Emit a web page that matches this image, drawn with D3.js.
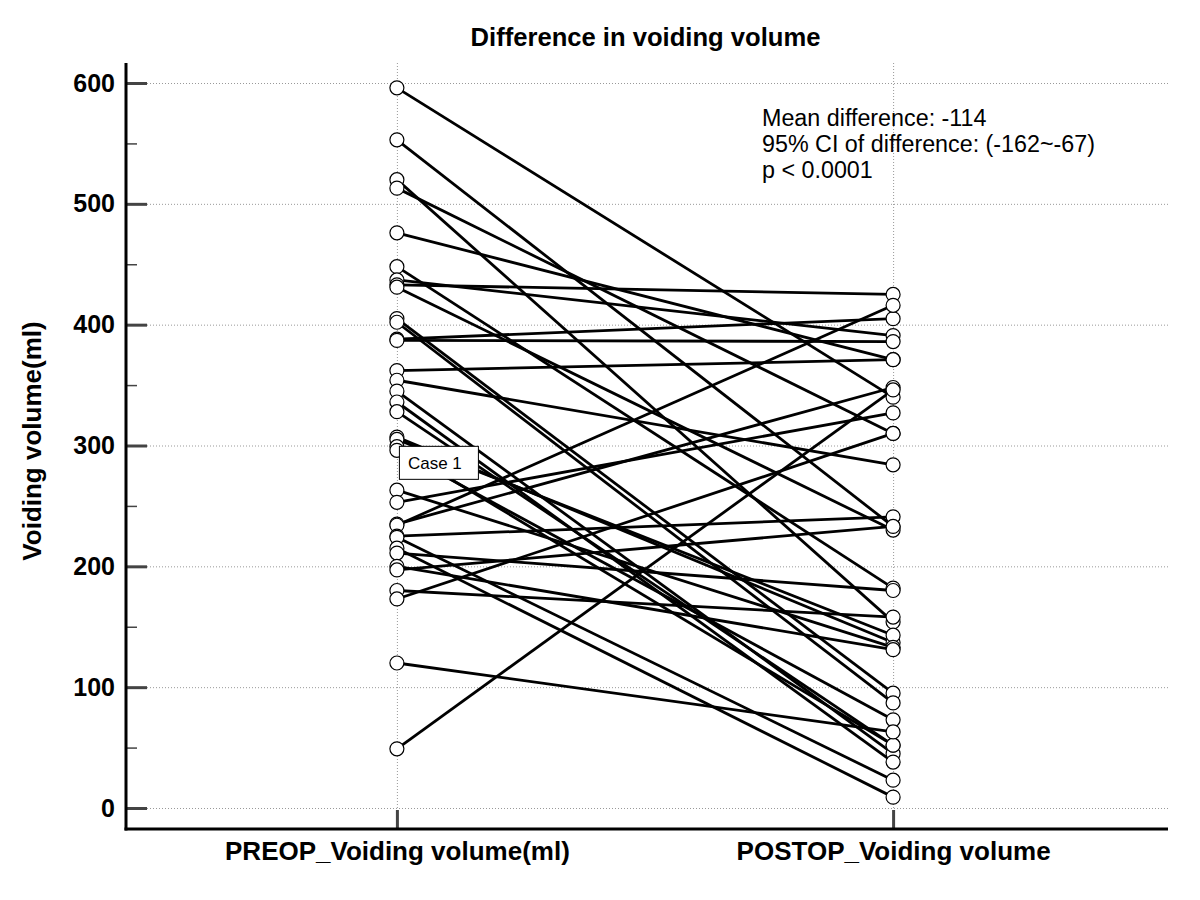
<!DOCTYPE html>
<html>
<head>
<meta charset="utf-8">
<script src="https://cdn.jsdelivr.net/npm/d3@7"></script>
<style>
  body { margin: 0; background: #fff; }
  svg { font-family: "Liberation Sans", Arial, sans-serif; }
</style>
</head>
<body>
<svg width="1200" height="900"></svg>
<script>
// paired measurements, one entry per case
const categories = ["PREOP_Voiding volume(ml)", "POSTOP_Voiding volume"]
const preop  = [596, 553, 520, 513, 476, 448, 437, 433, 431, 405, 402, 388, 387, 362, 354, 345, 336, 328,
                307, 305, 299, 296, 263, 253, 235, 234, 225, 224, 215, 211, 200, 197, 180, 173, 120, 49]
const postop = [340, 233, 154, 310, 371, 182, 391, 425, 230, 95, 87, 405, 386, 371, 284, 45, 38, 52,
                137, 143, 52, 73, 133, 327, 348, 416, 241, 23, 9, 180, 131, 233, 158, 310, 63, 346]
const yTicks = [0, 100, 200, 300, 400, 500, 600]
const yMinorTicks = [50, 150, 250, 350, 450, 550]
const statLines = ["Mean difference: -114", "95% CI of difference: (-162~-67)", "p < 0.0001"]
const caseLabel = { index: 21, text: "Case 1" }

const svg = d3.select("svg")

const plotLeft = 126, plotRight = 1168, plotTop = 63, plotBottom = 829

const x = d3.scalePoint()
  .domain(categories)
  .range([plotLeft - 2, plotRight - 2])
  .padding(0.55)

const y = d3.scaleLinear()
  .domain([0, 600])
  .range([808, 83])

const pairs = preop.map((v, i) => ({ pre: v, post: postop[i] }))

// grid
const grid = svg.append("g")
  .attr("stroke", "#999")
  .attr("stroke-width", 1)
  .attr("stroke-dasharray", "1,2")

grid.selectAll("line.h")
  .data(yTicks)
  .enter()
  .append("line")
  .attr("class", "h")
  .attr("x1", plotLeft + 21).attr("x2", plotRight)
  .attr("y1", d => y(d) + 0.5).attr("y2", d => y(d) + 0.5)

grid.selectAll("line.v")
  .data(categories)
  .enter()
  .append("line")
  .attr("class", "v")
  .attr("x1", d => x(d) + 0.5).attr("x2", d => x(d) + 0.5)
  .attr("y1", plotTop).attr("y2", plotBottom - 19)

// y axis
const yAxis = svg.append("g")
  .attr("transform", `translate(${plotLeft},0)`)
  .call(d3.axisLeft(y).tickValues(yTicks).tickSize(-21).tickPadding(11))

yAxis.select(".domain").remove()
yAxis.selectAll(".tick line").attr("stroke", "#444").attr("stroke-width", 3)
yAxis.selectAll(".tick text")
  .attr("font-size", 25).attr("font-weight", "bold")
  .attr("font-family", "Liberation Sans, Arial, sans-serif")
  .attr("fill", "#000")

const yMinor = svg.append("g")
  .attr("transform", `translate(${plotLeft},0)`)
  .call(d3.axisLeft(y).tickValues(yMinorTicks).tickSize(-11).tickFormat(""))

yMinor.select(".domain").remove()
yMinor.selectAll(".tick line").attr("stroke", "#444").attr("stroke-width", 1.5)

// x axis
const xAxis = svg.append("g")
  .attr("transform", `translate(0,${plotBottom - 1})`)
  .call(d3.axisBottom(x).tickSize(-18).tickPadding(14))

xAxis.select(".domain").remove()
xAxis.selectAll(".tick line").attr("stroke", "#444").attr("stroke-width", 3)
xAxis.selectAll(".tick text")
  .attr("font-size", 26).attr("font-weight", "bold")
  .attr("font-family", "Liberation Sans, Arial, sans-serif")
  .attr("fill", "#000")

// axis lines
svg.append("line")
  .attr("x1", plotLeft).attr("x2", plotLeft)
  .attr("y1", plotTop).attr("y2", plotBottom + 1.5)
  .attr("stroke", "#000").attr("stroke-width", 3)

svg.append("line")
  .attr("x1", plotLeft - 1.5).attr("x2", plotRight)
  .attr("y1", plotBottom).attr("y2", plotBottom)
  .attr("stroke", "#000").attr("stroke-width", 3)

// paired lines
svg.append("g")
  .selectAll("line")
  .data(pairs)
  .enter()
  .append("line")
  .attr("x1", x(categories[0])).attr("x2", x(categories[1]))
  .attr("y1", d => y(d.pre)).attr("y2", d => y(d.post))
  .attr("stroke", "#000")
  .attr("stroke-width", 2.8)

// points
const points = []
pairs.forEach(d => {
  points.push({ cat: categories[0], v: d.pre })
  points.push({ cat: categories[1], v: d.post })
})

svg.append("g")
  .selectAll("circle")
  .data(points)
  .enter()
  .append("circle")
  .attr("cx", d => x(d.cat))
  .attr("cy", d => y(d.v))
  .attr("r", 7)
  .attr("fill", "#fff")
  .attr("stroke", "#000")
  .attr("stroke-width", 1.2)

// case label
const cx = x(categories[0]), cy = y(pairs[caseLabel.index].pre)
const lab = svg.append("g").attr("transform", `translate(${cx + 2.5},${cy - 4})`)
lab.append("rect")
  .attr("width", 79).attr("height", 33)
  .attr("fill", "#fff").attr("stroke", "#000").attr("stroke-width", 1)
lab.append("text")
  .attr("x", 8.5).attr("y", 22.5)
  .attr("font-size", 17)
  .text(caseLabel.text)

// title
svg.append("text")
  .attr("x", 645.5).attr("y", 46)
  .attr("text-anchor", "middle")
  .attr("font-size", 25.6).attr("font-weight", "bold")
  .text("Difference in voiding volume")

// y label
svg.append("text")
  .attr("transform", "translate(41,441) rotate(-90)")
  .attr("text-anchor", "middle")
  .attr("font-size", 26).attr("font-weight", "bold")
  .text("Voiding volume(ml)")

// stats
svg.append("g")
  .selectAll("text")
  .data(statLines)
  .enter()
  .append("text")
  .attr("x", 762)
  .attr("y", (d, i) => 126 + i * 26)
  .attr("font-size", 23.3)
  .text(d => d)
</script>
</body>
</html>
